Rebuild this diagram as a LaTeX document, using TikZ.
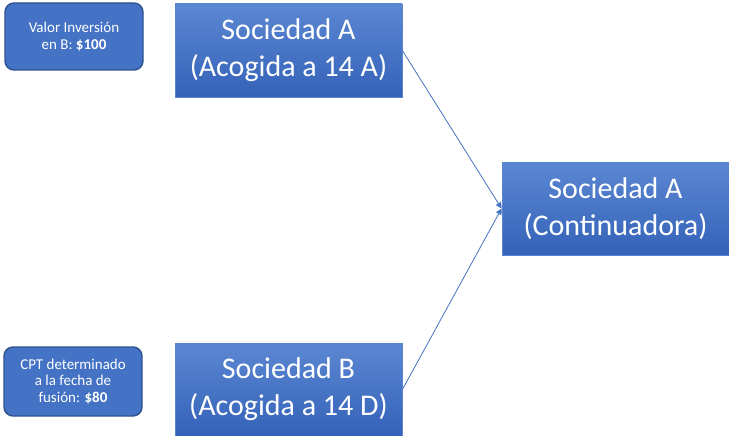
\documentclass[tikz,border=0pt]{standalone}
\usepackage{fontspec}
\setmainfont{Carlito}
\usetikzlibrary{arrows.meta}
\definecolor{obl}{HTML}{4472C4}
\definecolor{obd}{HTML}{2F528F}
\definecolor{gtop}{HTML}{5B87D2}
\definecolor{gbot}{HTML}{3462B8}
\definecolor{gedge}{HTML}{5A86CF}
\tikzset{
  bigbox/.style={rectangle, draw=gedge, line width=0.8pt, top color=gtop, bottom color=gbot,
    minimum width=227pt, minimum height=93pt, inner sep=0pt, text=white, align=center,
    font=\fontsize{30}{37}\selectfont},
  notebox/.style={rectangle, rounded corners=9pt, draw=obd, line width=1.4pt, fill=obl,
    minimum width=138pt, minimum height=67pt, inner sep=0pt, text=white, align=center,
    font=\fontsize{15}{16.5}\selectfont},
  link/.style={draw=obl, line width=0.8pt, -{Triangle[length=6pt,width=6pt]}}
}
\begin{document}
\begin{tikzpicture}[x=1pt,y=-1pt]
\useasboundingbox (0,0) rectangle (729,436);
\node[notebox] (n1) at (74,36.5) {Valor Inversión\\en B: \textbf{\$100}};
\node[notebox, minimum height=69pt] (n2) at (73,381.5) {CPT determinado\\a la fecha de\\fusión: \textbf{\$80}};
\node[bigbox] (a) at (288.5,50.5) {Sociedad A\\(Acogida a 14 A)};
\node[bigbox] (b) at (288.5,389.5) {Sociedad B\\(Acogida a 14 D)};
\node[bigbox] (c) at (615.5,208.5) {Sociedad A\\(Continuadora)};
\draw[link] (a.east) -- (c.west);
\draw[link] (b.east) -- (c.west);
\end{tikzpicture}
\end{document}
